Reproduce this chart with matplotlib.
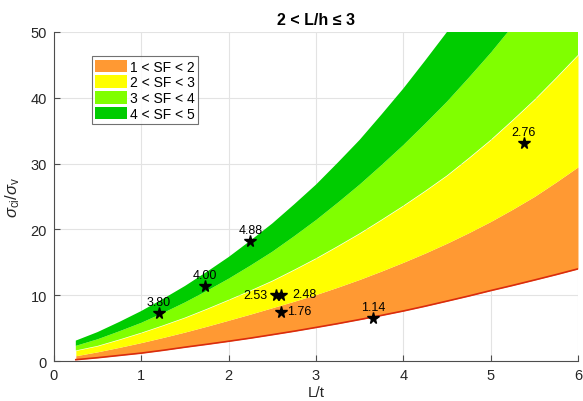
import matplotlib
matplotlib.use("Agg")
import matplotlib.pyplot as plt
from matplotlib.patches import Patch

plt.rcParams['font.family'] = ['Liberation Sans', 'DejaVu Sans']
plt.rcParams['mathtext.fontset'] = 'custom'
plt.rcParams['mathtext.rm'] = 'Liberation Sans'
plt.rcParams['mathtext.it'] = 'Liberation Sans:italic'

# L/t sample positions and SF boundary curves
lt = [0.25, 0.5, 0.75, 1.0, 1.25, 1.5, 1.75, 2.0, 2.25, 2.5, 2.75, 3.0,
      3.25, 3.5, 3.75, 4.0, 4.25, 4.5, 4.75, 5.0, 5.25, 5.5, 5.75, 6.0]
sf1 = [0.2, 0.5, 0.85, 1.2, 1.63, 2.1, 2.54, 3.0, 3.48, 4.0, 4.53, 5.1,
       5.68, 6.3, 6.93, 7.6, 8.33, 9.1, 9.88, 10.7, 11.48, 12.3, 13.13, 14.0]
sf2 = [0.8, 1.4, 2.08, 2.8, 3.58, 4.4, 5.28, 6.2, 7.13, 8.1, 9.08, 10.1,
       11.22, 12.4, 13.67, 15.0, 16.4, 17.9, 19.5, 21.2, 23.05, 25.0, 27.2, 29.5]
sf3 = [1.6, 2.3, 3.27, 4.3, 5.42, 6.6, 7.92, 9.3, 10.72, 12.2, 13.87, 15.6,
       17.47, 19.4, 21.47, 23.6, 25.85, 28.2, 30.85, 33.6, 36.6, 39.7, 43.05, 46.5]
sf4 = [2.3, 3.3, 4.52, 5.8, 7.3, 8.9, 10.65, 12.5, 14.5, 16.6, 18.95, 21.4,
       24.05, 26.8, 29.75, 32.8, 36.05, 39.4, 43.05, 46.8, 50.85, 55.0, 59.45, 64.0]
sf5 = [3.1, 4.4, 5.95, 7.6, 9.45, 11.4, 13.55, 15.8, 18.3, 20.9, 23.8, 26.8,
       30.15, 33.6, 37.45, 41.4, 45.65, 50.0, 54.85, 59.8, 65.25, 70.8, 76.85, 83.0]

band_labels = ['1 < SF < 2', '2 < SF < 3', '3 < SF < 4', '4 < SF < 5']
band_colors = ['#FF9933', '#FFFF00', '#80FF00', '#00CC00']

# measured points
pt_x = [1.20, 1.73, 2.25, 2.54, 2.60, 2.60, 3.65, 5.38]
pt_y = [7.3, 11.35, 18.2, 10.1, 10.1, 7.4, 6.5, 33.2]
pt_lab = ['3.80', '4.00', '4.88', '2.53', '2.48', '1.76', '1.14', '2.76']
# label placement: 'up', 'left', 'right'
pt_pos = ['up', 'up', 'up', 'left', 'right', 'right', 'up', 'up']

fig = plt.figure(figsize=(5.83, 4.02), dpi=100)
ax = fig.add_axes([0.0926, 0.0995, 0.8988, 0.8185])

bounds = [sf1, sf2, sf3, sf4, sf5]
handles = []
for i in range(4):
    ax.fill_between(lt, bounds[i], bounds[i + 1], color=band_colors[i], lw=0, zorder=2)
    handles.append(Patch(facecolor=band_colors[i], edgecolor='none', label=band_labels[i]))
ax.plot(lt, sf1, color='#D92B0E', lw=1.2, zorder=3)

ax.plot(pt_x, pt_y, linestyle='none', marker='*', color='black', markersize=8.5, zorder=5)
pxpt = 72 / 100.0
for x, y, s, p in zip(pt_x, pt_y, pt_lab, pt_pos):
    if p == 'up':
        ax.annotate(s, (x, y), xytext=(0, 11 * pxpt), textcoords='offset points',
                    ha='center', va='center', fontsize=9, zorder=6)
    elif p == 'left':
        ax.annotate(s, (x, y), xytext=(-8 * pxpt, 0), textcoords='offset points',
                    ha='right', va='center', fontsize=9, zorder=6)
    else:
        off = 11 if s == '2.48' else 6
        ax.annotate(s, (x, y), xytext=(off * pxpt, 1 * pxpt), textcoords='offset points',
                    ha='left', va='center', fontsize=9, zorder=6)

ax.set_xlim(0, 6)
ax.set_ylim(0, 50)
ax.set_xticks(range(0, 7))
ax.set_yticks(range(0, 51, 10))
ax.grid(True, color='#E3E3E3', lw=0.8, zorder=0)
ax.set_axisbelow(True)
for s in ['top', 'right']:
    ax.spines[s].set_visible(False)
for s in ['left', 'bottom']:
    ax.spines[s].set_color('#4D4D4D')
    ax.spines[s].set_linewidth(0.8)
ax.tick_params(direction='in', length=4, color='#4D4D4D', labelsize=10.5,
               labelcolor='#262626', pad=5)

ax.set_title('2 < L/h ≤ 3', fontsize=11.5, fontweight='bold', pad=6)
ax.set_xlabel('L/t', fontsize=11, labelpad=2, color='#262626')
ax.set_ylabel(r'$\sigma_{\rm ci}/\sigma_{\rm v}$', fontsize=12, labelpad=6, color='#262626')

leg = ax.legend(handles=handles, loc='upper left', bbox_to_anchor=(0.072, 0.926),
                fontsize=10, frameon=True, fancybox=False, handlelength=2.3,
                handleheight=1.0, handletextpad=0.2, labelspacing=0.12,
                borderpad=0.25, borderaxespad=0)
leg.get_frame().set_edgecolor('#4D4D4D')
leg.get_frame().set_linewidth(0.8)

fig.savefig('out.png', dpi=100)
